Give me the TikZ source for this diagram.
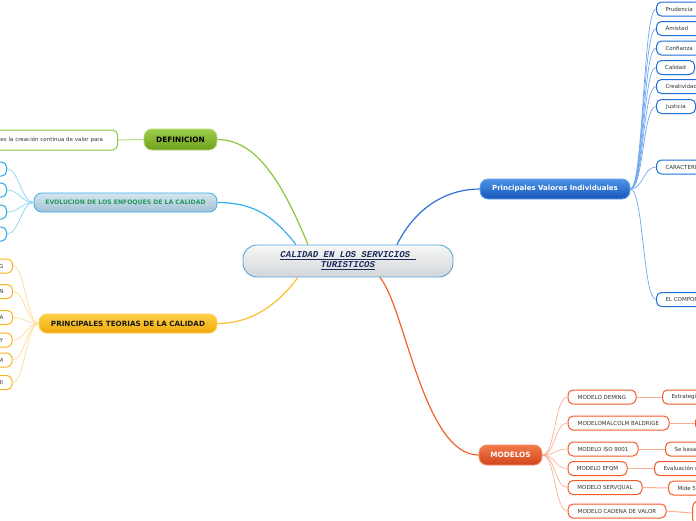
\documentclass[tikz,border=0pt]{standalone}
\usepackage{fontspec}
\setmainfont{DejaVu Sans}
\newfontfamily\monob{Liberation Mono}
\usetikzlibrary{calc}
\definecolor{bTop}{HTML}{4D93E6}\definecolor{bBot}{HTML}{1656B9}\definecolor{bDraw}{HTML}{6AA6EC}
\definecolor{bChild}{HTML}{1E6FD9}\definecolor{bLine}{HTML}{6FA6F0}\definecolor{bMain}{HTML}{2A72DA}
\definecolor{gTop}{HTML}{9ECF4C}\definecolor{gBot}{HTML}{6E9E1C}\definecolor{gDraw}{HTML}{B6D97A}
\definecolor{gChild}{HTML}{8CC63F}\definecolor{gLine}{HTML}{BADD88}\definecolor{gMain}{HTML}{8CC43C}
\definecolor{lTop}{HTML}{D6E6F0}\definecolor{lBot}{HTML}{A2C0D6}\definecolor{lDraw}{HTML}{37AEE8}
\definecolor{lChild}{HTML}{2AA8E6}\definecolor{lLine}{HTML}{86D2F2}\definecolor{lMain}{HTML}{35B0EA}
\definecolor{lText}{HTML}{239A5A}
\definecolor{oTop}{HTML}{FDD047}\definecolor{oBot}{HTML}{F0A80A}\definecolor{oDraw}{HTML}{FBCB50}
\definecolor{oChild}{HTML}{F9B51C}\definecolor{oLine}{HTML}{FDDB95}\definecolor{oMain}{HTML}{FBBF2A}
\definecolor{rTop}{HTML}{F27A4A}\definecolor{rBot}{HTML}{D2451C}\definecolor{rDraw}{HTML}{F58A60}
\definecolor{rChild}{HTML}{F25A2A}\definecolor{rLine}{HTML}{F9AE94}\definecolor{rMain}{HTML}{F2612E}
\definecolor{cTop}{HTML}{F7F7F7}\definecolor{cBot}{HTML}{D2D6D8}\definecolor{cDraw}{HTML}{5AA4DC}
\definecolor{cText}{HTML}{1C2A5C}\definecolor{txt}{HTML}{333333}
\tikzset{
  x=1pt,y=-1pt,
  mainnode/.style={rounded corners=8pt,draw,line width=0.8pt,minimum height=20pt,inner sep=0pt,
    font=\fontsize{7}{8}\selectfont\bfseries},
  childnode/.style={rounded corners=5pt,draw,fill=white,line width=1pt,minimum height=14pt,inner sep=0pt,
    text=txt,font=\fontsize{5.5}{6.5}\selectfont},
  openright/.style={childnode,anchor=west,text width=60pt,align=left,inner xsep=9pt},
  openleft/.style={childnode,anchor=east,text width=40pt,align=right,inner xsep=9pt},
  bchild/.style={draw=bChild},
  rchild/.style={childnode,draw=rChild},
  mainline/.style={line width=1.2pt},
  subline/.style={line width=0.7pt},
}
\begin{document}
\begin{tikzpicture}
\useasboundingbox (0,0) rectangle (696,520);
% central
\node[rounded corners=14pt,draw=cDraw,line width=0.9pt,top color=cTop,bottom color=cBot,
  minimum width=210pt,minimum height=32pt,inner sep=0pt,align=center,text=cText,
  font=\monob\bfseries\itshape\fontsize{9}{10}\selectfont] (c) at (348,261)
  {\underline{CALIDAD EN LOS SERVICIOS }\\\underline{TURISTICOS}};
\coordinate (cg) at ($(c.north)+(-40,0)$);
\coordinate (cl) at ($(c.north)+(-52,0)$);
\coordinate (cb) at ($(c.north)+(49,0)$);
\coordinate (co) at ($(c.south)+(-50,0)$);
\coordinate (cr) at ($(c.south)+(32,0)$);

% main nodes
\node[mainnode,draw=bDraw,top color=bTop,bottom color=bBot,text=white,minimum width=150pt] (pv) at (555,189) {Principales Valores Individuales};
\node[mainnode,draw=gDraw,top color=gTop,bottom color=gBot,text=black,minimum width=73pt,minimum height=21pt,font=\fontsize{7.4}{8}\selectfont\bfseries] (def) at (180.5,139.5) {DEFINICION};
\node[mainnode,draw=lDraw,top color=lTop,bottom color=lBot,text=lText,minimum width=183pt,minimum height=19pt,font=\fontsize{6.1}{7}\selectfont\bfseries] (evo) at (125.5,202.5) {EVOLUCION DE LOS ENFOQUES DE LA CALIDAD};
\node[mainnode,draw=oDraw,top color=oTop,bottom color=oBot,text=black!90,minimum width=178pt,minimum height=19pt,font=\fontsize{7.2}{8}\selectfont\bfseries] (teo) at (128,323.5) {PRINCIPALES TEORIAS DE LA CALIDAD};
\node[mainnode,draw=rDraw,top color=rTop,bottom color=rBot,text=white,minimum width=63pt,font=\fontsize{7.3}{8}\selectfont\bfseries] (mod) at (510.5,455) {MODELOS};

% main connectors
\draw[mainline,gMain] (def.east) .. controls +(40,0) and +(-25,-60) .. (cg);
\draw[mainline,lMain] (evo.east) .. controls +(40,0) and +(-20,-25) .. (cl);
\draw[mainline,oMain] (teo.east) .. controls +(40,0) and +(-15,20) .. (co);
\draw[mainline,bMain] (cb) .. controls +(20,-40) and +(-30,0) .. (pv.west);
\draw[mainline,rMain] (cr) .. controls +(25,30) and +(-55,0) .. (mod.west);

% right children
\node[childnode,bchild,anchor=west,text width=60pt,align=left,inner xsep=9pt] (p1) at (656,9) {Prudencia};
\node[childnode,bchild,anchor=west,text width=60pt,align=left,inner xsep=9pt] (p2) at (656,28.5) {Amistad};
\node[childnode,bchild,anchor=west,text width=60pt,align=left,inner xsep=9pt] (p3) at (656,48) {Confianza};
\node[childnode,bchild,anchor=west,minimum width=38pt] (p4) at (656,67.5) {Calidad};
\node[childnode,bchild,anchor=west,text width=60pt,align=left,inner xsep=9pt] (p5) at (656,86.5) {Creatividad};
\node[childnode,bchild,anchor=west,minimum width=39pt] (p6) at (656,106.5) {Justicia};
\node[childnode,bchild,anchor=west,text width=60pt,align=left,inner xsep=9pt] (p7) at (656,167) {CARACTERI};
\node[childnode,bchild,anchor=west,text width=60pt,align=left,inner xsep=9pt] (p8) at (656,299.5) {EL COMPOR};
\foreach \n in {p1,p2,p3,p4,p5,p6,p7,p8}
  \draw[subline,bLine] (pv.east) .. controls +(13,0) and +(-13,0) .. (\n.west);

% definition child
\node[childnode,draw=gChild,anchor=east,text width=108pt,align=left,inner xsep=9pt,minimum height=20pt] (dtxt) at (118,140) {es la creación continua de valor para};
\draw[subline,gLine,line width=1pt] (dtxt.east) -- (def.west);

% evolucion children
\foreach \y [count=\i] in {169,190,212,234}{
  \node[childnode,draw=lChild,anchor=east,minimum width=40pt] (e\i) at (7,\y) {};
  \draw[subline,lLine] (evo.west) .. controls +(-12,0) and +(12,0) .. (e\i.east);
}

% teorias children
\node[openleft,draw=oChild] (t1) at (13,266) {G};
\node[openleft,draw=oChild] (t2) at (13,291.5) {N};
\node[openleft,draw=oChild] (t3) at (13,317.5) {A};
\node[openleft,draw=oChild] (t4) at (12.5,340) {Y};
\node[openleft,draw=oChild] (t5) at (12.5,360) {M};
\node[openleft,draw=oChild] (t6) at (12.5,382.5) {II};
\foreach \n in {t1,t2,t3,t4,t5,t6}
  \draw[subline,oLine] (teo.west) .. controls +(-12,0) and +(12,0) .. (\n.east);

% modelos children
\node[rchild,minimum width=68pt] (m1) at (602,397) {MODELO DEMING};
\node[rchild,minimum width=101pt] (m2) at (618.5,423) {MODELOMALCOLM BALDRIGE};
\node[rchild,minimum width=70pt] (m3) at (603,449) {MODELO ISO 9001};
\node[rchild,minimum width=59pt] (m4) at (597.5,468.5) {MODELO EFQM};
\node[rchild,minimum width=74pt] (m5) at (605,487.5) {MODELO SERVQUAL};
\node[rchild,minimum width=98pt] (m6) at (617,511) {MODELO CADENA DE VALOR};
\foreach \n in {m1,m2,m3,m4,m5,m6}
  \draw[subline,rLine] (mod.east) .. controls +(13,0) and +(-13,0) .. (\n.west);

% modelos grandchildren
\node[openright,draw=rChild] (g1) at (662,397) {Estrategi};
\node[openright,draw=rChild] (g2) at (695,423) {};
\node[openright,draw=rChild] (g3) at (665,449) {Se basa};
\node[openright,draw=rChild] (g4) at (654,468.5) {Evaluación d};
\node[openright,draw=rChild] (g5) at (668,488) {Mide 5};
\node[openright,draw=rChild,minimum height=26pt,rounded corners=8pt] (g6) at (692,513) {};
\foreach \a/\b in {m1/g1,m2/g2,m3/g3,m4/g4,m5/g5,m6/g6}
  \draw[subline,rLine,line width=1pt] (\a.east) -- (\b.west);
\end{tikzpicture}
\end{document}
